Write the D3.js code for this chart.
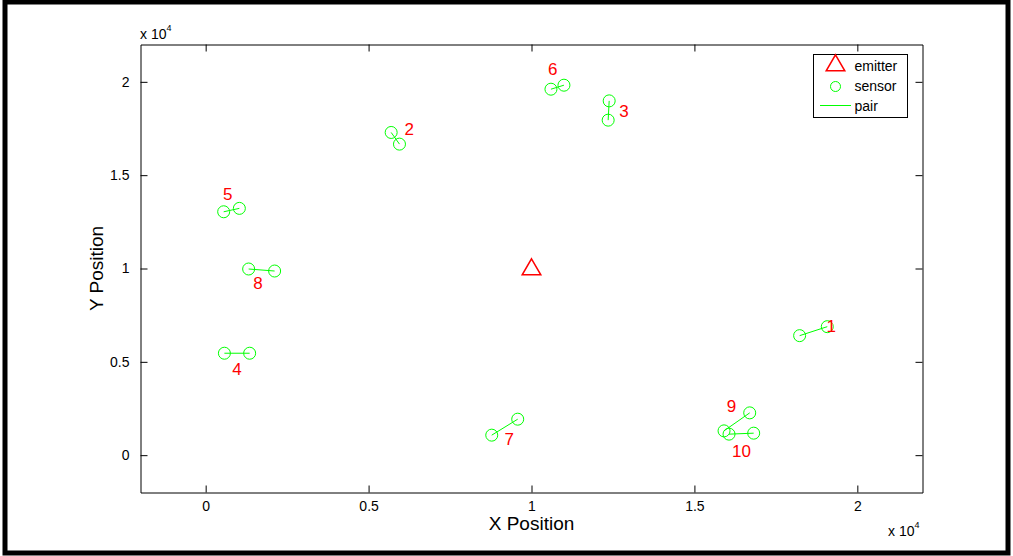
<!DOCTYPE html>
<html>
<head>
<meta charset="utf-8">
<script src="https://cdn.jsdelivr.net/npm/d3@7"></script>
<style>
  body { margin: 0; background: #fff; }
  svg { display: block; font-family: "Liberation Sans", Arial, sans-serif; }
</style>
</head>
<body>
<div id="chart"></div>
<script>
// Data (positions in metres)
const emitter = [{ x: 10000, y: 10000 }];
const pairIds = [1, 2, 3, 4, 5, 6, 7, 8, 9, 10];
const sensorA = [[18229, 6403], [5693, 17288], [12384, 18980], [575, 5461], [553, 13039],
                 [10597, 19606], [8780, 1072], [1319, 9973], [15909, 1302], [16062, 1126]];
const sensorB = [[19078, 6884], [5948, 16663], [12353, 17947], [1350, 5461], [1034, 13221],
                 [10996, 19820], [9577, 1928], [2116, 9865], [16697, 2266], [16819, 1179]];
const labelPos = [[19201, 6868], [6245, 17465], [12835, 18391], [963, 4604], [676, 13987],
                  [10649, 20660], [9319, 820], [1608, 9207], [16136, 2603], [16442, 194]];
const xTicks = [0, 5000, 10000, 15000, 20000];
const yTicks = [0, 5000, 10000, 15000, 20000];
const tickFmt = d => d === 0 ? "0" : String(d / 10000);

const W = 1013, H = 556;
const m = { left: 140.5, right: 922.5, top: 44.5, bottom: 492.5 };

const svg = d3.select("#chart").append("svg")
    .attr("width", W).attr("height", H);

// figure frame
svg.append("rect")
    .attr("x", 5).attr("y", 2).attr("width", W - 10).attr("height", H - 5)
    .attr("fill", "#fff").attr("stroke", "#000").attr("stroke-width", 5);

const x = d3.scaleLinear().domain([-2000, 22000]).range([m.left, m.right]);
const y = d3.scaleLinear().domain([-2000, 22000]).range([m.bottom, m.top]);

const tickLen = 7;
// axes (MATLAB style: inward ticks on all sides)
svg.append("g").attr("transform", `translate(0,${m.bottom})`)
    .call(d3.axisBottom(x).tickValues(xTicks).tickFormat(tickFmt).tickSizeInner(-tickLen).tickSizeOuter(0).tickPadding(9));
svg.append("g").attr("transform", `translate(0,${m.top})`)
    .call(d3.axisTop(x).tickValues(xTicks).tickFormat("").tickSizeInner(-tickLen).tickSizeOuter(0));
svg.append("g").attr("transform", `translate(${m.left},0)`)
    .call(d3.axisLeft(y).tickValues(yTicks).tickFormat(tickFmt).tickSizeInner(-tickLen).tickSizeOuter(0).tickPadding(11));
svg.append("g").attr("transform", `translate(${m.right},0)`)
    .call(d3.axisRight(y).tickValues(yTicks).tickFormat("").tickSizeInner(-tickLen).tickSizeOuter(0));

svg.selectAll(".domain").attr("stroke", "#000");
svg.selectAll(".tick line").attr("stroke", "#000");
svg.selectAll(".tick text").attr("font-size", 14).attr("fill", "#000")
    .attr("font-family", "Liberation Sans, Arial, sans-serif");

// exponent labels
function expLabel(ex, ey) {
  const t = svg.append("text").attr("x", ex).attr("y", ey)
      .attr("font-size", 14).attr("fill", "#000");
  t.append("tspan").text("x 10");
  t.append("tspan").attr("dy", -8).attr("font-size", 9).text("4");
}
expLabel(140, 39);
expLabel(888, 536);

// axis titles
svg.append("text").attr("x", (m.left + m.right) / 2).attr("y", 530)
    .attr("text-anchor", "middle").attr("font-size", 19).text("X Position");
svg.append("text").attr("transform", `translate(103,${(m.top + m.bottom) / 2}) rotate(-90)`)
    .attr("text-anchor", "middle").attr("font-size", 19).text("Y Position");

const plot = svg.append("g");
const green = "#00ff00", red = "#ff0000";

// pair lines
plot.selectAll("line.pair").data(pairIds).join("line")
    .attr("class", "pair")
    .attr("x1", (d, i) => x(sensorA[i][0])).attr("y1", (d, i) => y(sensorA[i][1]))
    .attr("x2", (d, i) => x(sensorB[i][0])).attr("y2", (d, i) => y(sensorB[i][1]))
    .attr("stroke", green).attr("stroke-width", 1);

// sensors
const sensors = sensorA.concat(sensorB);
plot.selectAll("circle.sensor").data(sensors).join("circle")
    .attr("class", "sensor")
    .attr("cx", d => x(d[0])).attr("cy", d => y(d[1])).attr("r", 6)
    .attr("fill", "none").attr("stroke", green).attr("stroke-width", 1);

// emitter triangle
const tri = d3.symbol().type(d3.symbolTriangle).size(150);
plot.selectAll("path.emitter").data(emitter).join("path")
    .attr("class", "emitter")
    .attr("transform", d => `translate(${x(d.x)},${y(d.y) + 1})`)
    .attr("d", tri).attr("fill", "none").attr("stroke", red).attr("stroke-width", 1.5);

// pair labels
plot.selectAll("text.lbl").data(pairIds).join("text")
    .attr("class", "lbl")
    .attr("x", (d, i) => x(labelPos[i][0])).attr("y", (d, i) => y(labelPos[i][1]))
    .attr("text-anchor", "middle").attr("dominant-baseline", "central")
    .attr("font-size", 17).attr("fill", red).text(d => d);

// legend
const lg = svg.append("g").attr("transform", "translate(813.5,54.5)");
lg.append("rect").attr("width", 94).attr("height", 63)
    .attr("fill", "#fff").attr("stroke", "#000").attr("stroke-width", 1);
lg.append("path").attr("transform", "translate(22,11)").attr("d", tri)
    .attr("fill", "none").attr("stroke", red).attr("stroke-width", 1.5);
lg.append("circle").attr("cx", 22).attr("cy", 32).attr("r", 5)
    .attr("fill", "none").attr("stroke", green);
lg.append("line").attr("x1", 6.5).attr("x2", 37.5).attr("y1", 51).attr("y2", 51)
    .attr("stroke", green).attr("stroke-width", 1);
const legendNames = ["emitter", "sensor", "pair"];
lg.selectAll("text.leg").data(legendNames).join("text")
    .attr("class", "leg")
    .attr("x", 41).attr("y", (d, i) => 11 + i * 20)
    .attr("dominant-baseline", "central").attr("font-size", 14).text(d => d);
</script>
</body>
</html>
